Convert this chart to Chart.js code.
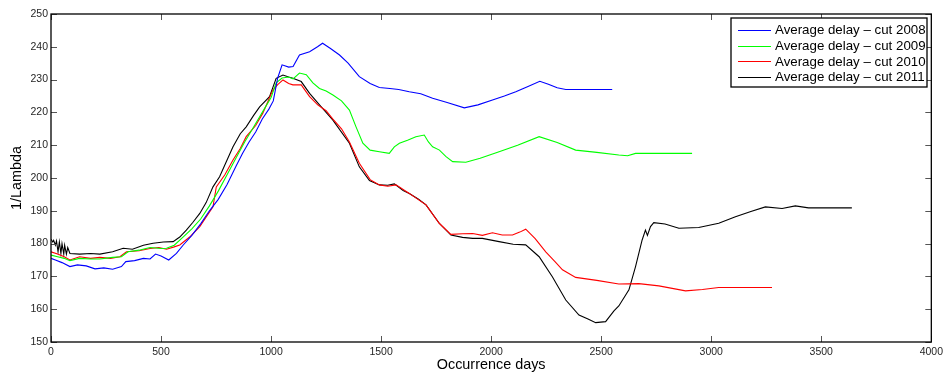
<!DOCTYPE html>
<html lang="en">
<head>
  <meta charset="UTF-8" />
  <title>Average delay - 1/Lambda</title>
  <script src="https://cdn.jsdelivr.net/npm/chart.js"></script>
  <style>
    html, body { margin: 0; padding: 0; background: #fff; }
    #wrap { width: 947px; height: 376px; }
  </style>
</head>
<body>
  <div id="wrap"><canvas id="delayChart" width="947" height="376"></canvas></div>

  <script>
    // values (x = occurrence days, y = 1/Lambda)
    const labels = ['Average delay \u2013 cut 2008', 'Average delay \u2013 cut 2009', 'Average delay \u2013 cut 2010', 'Average delay \u2013 cut 2011'];
    const colors = ['#0000ff', '#00ff00', '#ff0000', '#000000'];
    const xTicks = [0, 500, 1000, 1500, 2000, 2500, 3000, 3500, 4000];
    const yTicks = [150, 160, 170, 180, 190, 200, 210, 220, 230, 240, 250];

    const days2008 = [0, 20, 50, 86, 120, 160, 200, 240, 280, 320, 340, 380, 420, 450, 475, 500, 535, 570, 600, 640, 680, 720, 760, 800, 840, 870, 900, 930, 960, 990, 1010, 1030, 1050, 1080, 1100, 1129, 1175, 1211, 1234, 1270, 1311, 1350, 1401, 1450, 1492, 1540, 1580, 1628, 1680, 1734, 1800, 1878, 1940, 2006, 2060, 2112, 2170, 2221, 2260, 2300, 2339, 2450, 2550];
    const delay2008 = [175.5, 175, 174.2, 173, 173.5, 173.2, 172.3, 172.6, 172.2, 173, 174.5, 174.8, 175.5, 175.3, 176.8, 176.2, 175, 177, 179.5, 182.5, 186, 190, 193.5, 198, 203.5, 207.5, 211, 214, 218, 221, 223.5, 230.5, 234.5, 233.8, 234, 237.5, 238.5, 240, 241.1, 239.5, 237.5, 235, 230.9, 228.8, 227.6, 227.3, 227, 226.3, 225.7, 224.3, 223, 221.4, 222.3, 223.8, 225, 226.3, 228, 229.5, 228.6, 227.5, 227, 227, 227];

    const days2009 = [0, 30, 60, 86, 130, 180, 222, 280, 320, 350, 400, 450, 500, 525, 560, 600, 640, 680, 720, 760, 800, 840, 880, 920, 960, 1000, 1023, 1050, 1080, 1100, 1129, 1160, 1190, 1220, 1250, 1281, 1320, 1356, 1386, 1417, 1450, 1492, 1537, 1560, 1583, 1620, 1658, 1696, 1715, 1734, 1765, 1795, 1825, 1885, 1950, 2036, 2120, 2218, 2300, 2384, 2480, 2580, 2620, 2656, 2913];
    const delay2009 = [176.5, 176, 175.5, 174.8, 175.5, 175.3, 175.3, 175.8, 176, 177.5, 178, 178.8, 178.5, 178.6, 179.5, 182, 184.5, 187.5, 191.5, 196, 201, 206, 211, 215.5, 220, 224.5, 229, 230.5, 230.8, 230.2, 232, 231.5, 229, 227.3, 226.5, 225.3, 223.5, 220.7, 215.6, 210.6, 208.5, 208, 207.5, 209.5, 210.6, 211.5, 212.6, 213.1, 211, 209.5, 208.5, 206.5, 205, 204.8, 206, 208, 210, 212.6, 210.8, 208.5, 207.8, 207, 206.8, 207.5, 207.5];

    const days2010 = [0, 30, 60, 86, 130, 180, 222, 270, 313, 343, 400, 450, 490, 525, 560, 585, 630, 676, 736, 751, 790, 827, 860, 887, 930, 962, 1008, 1030, 1054, 1080, 1099, 1137, 1175, 1212, 1250, 1280, 1320, 1356, 1401, 1450, 1492, 1530, 1568, 1628, 1704, 1764, 1817, 1870, 1916, 1960, 2006, 2050, 2097, 2130, 2157, 2200, 2248, 2290, 2324, 2384, 2480, 2580, 2671, 2762, 2883, 2960, 3034, 3276];
    const delay2010 = [177.5, 176.8, 176, 175, 176, 175.5, 175.8, 175.5, 176, 177.5, 177.8, 178.5, 178.8, 178.3, 179, 179.6, 182, 185.2, 191.2, 197.3, 201, 205.5, 209, 212.6, 216, 219.7, 226.8, 228.5, 229.9, 228.8, 228.4, 228.4, 224.8, 222.3, 220.5, 218, 215, 211, 204.5, 199.5, 197.9, 197.5, 197.9, 195.3, 191.8, 186.2, 182.8, 183, 183.1, 182.5, 183.3, 182.6, 182.6, 183.5, 184.4, 181.5, 177.5, 174.5, 172, 169.7, 168.8, 167.7, 167.8, 167.1, 165.6, 166, 166.6, 166.6];

    const days2011 = [0, 8, 12, 20, 25, 32, 38, 45, 50, 58, 62, 70, 76, 86, 130, 180, 222, 280, 328, 370, 420, 464, 510, 555, 585, 615, 645, 676, 705, 736, 766, 800, 827, 860, 887, 920, 948, 993, 1023, 1054, 1080, 1099, 1137, 1175, 1220, 1280, 1356, 1401, 1447, 1492, 1530, 1560, 1600, 1628, 1670, 1704, 1764, 1817, 1870, 1916, 1960, 2036, 2100, 2157, 2218, 2278, 2339, 2399, 2440, 2475, 2520, 2558, 2580, 2626, 2656, 2686, 2701, 2710, 2724, 2739, 2790, 2853, 2943, 3034, 3110, 3180, 3246, 3322, 3382, 3442, 3639];
    const delay2011 = [181.3, 180.5, 181, 179.5, 180.8, 177.5, 180.5, 177, 180, 176.8, 179.5, 176.8, 178.8, 177, 176.8, 177, 176.8, 177.5, 178.6, 178.3, 179.5, 180.1, 180.5, 180.6, 182, 184.1, 186.5, 189.2, 192.5, 197.3, 200.4, 205.5, 209.5, 213.5, 215.6, 219, 221.7, 224.8, 230.4, 231.4, 230.8, 230.4, 229.4, 225.8, 222.3, 217.7, 210.6, 203.4, 199.2, 197.9, 197.8, 198.2, 196.2, 195.3, 193.5, 191.8, 186.2, 182.6, 181.9, 181.6, 181.6, 180.6, 179.8, 179.6, 176, 169.9, 162.8, 158.2, 157, 155.9, 156.2, 159.5, 161, 165.9, 173, 181.1, 184.1, 182.5, 185.2, 186.4, 186, 184.7, 184.9, 186.2, 188.2, 189.8, 191.2, 190.7, 191.5, 190.9, 190.9];

    const allDays = [days2008, days2009, days2010, days2011];
    const allDelays = [delay2008, delay2009, delay2010, delay2011];

    const FONT = '"Liberation Sans", Arial, sans-serif';

    function toPoints(xs, ys) {
      return xs.map((x, i) => ({ x: x, y: ys[i] }));
    }

    // matlab-like frame with inward ticks on all four sides, plus the boxed legend
    const framePlugin = {
      id: 'frame',
      afterDraw(chart) {
        const ctx = chart.ctx;
        const a = chart.chartArea;
        const xs = chart.scales.x, ys = chart.scales.y;
        ctx.save();
        ctx.strokeStyle = '#555';
        ctx.lineWidth = 1;
        ctx.beginPath();
        xTicks.forEach(v => {
          const px = Math.round(xs.getPixelForValue(v)) + 0.5;
          ctx.moveTo(px, a.bottom); ctx.lineTo(px, a.bottom - 6);
          ctx.moveTo(px, a.top); ctx.lineTo(px, a.top + 6);
        });
        yTicks.forEach(v => {
          const py = Math.round(ys.getPixelForValue(v)) + 0.5;
          ctx.moveTo(a.left, py); ctx.lineTo(a.left + 6, py);
          ctx.moveTo(a.right, py); ctx.lineTo(a.right - 6, py);
        });
        ctx.stroke();
        ctx.strokeStyle = '#000';
        ctx.lineWidth = 1.3;
        ctx.strokeRect(a.left, a.top, a.right - a.left, a.bottom - a.top);

        const lx = 731, ly = 18, lw = 196, lh = 69;
        ctx.fillStyle = '#fff';
        ctx.fillRect(lx, ly, lw, lh);
        ctx.strokeStyle = '#000';
        ctx.lineWidth = 1.3;
        ctx.strokeRect(lx, ly, lw, lh);
        ctx.font = '13.3px ' + FONT;
        ctx.textBaseline = 'middle';
        ctx.textAlign = 'left';
        chart.data.datasets.forEach((ds, i) => {
          const y = ly + 12 + i * 15.7;
          ctx.strokeStyle = ds.borderColor;
          ctx.lineWidth = 1;
          ctx.beginPath();
          ctx.moveTo(738, Math.round(y) + 0.5);
          ctx.lineTo(771, Math.round(y) + 0.5);
          ctx.stroke();
          ctx.fillStyle = '#000';
          ctx.fillText(ds.label, 775, y + 0.5);
        });
        ctx.restore();
      }
    };

    const ctx = document.getElementById('delayChart').getContext('2d');
    new Chart(ctx, {
      type: 'line',
      data: {
        datasets: labels.map((lab, i) => ({
          label: lab,
          data: toPoints(allDays[i], allDelays[i]),
          borderColor: colors[i],
          backgroundColor: colors[i],
          borderWidth: 1.1,
          pointRadius: 0,
          tension: 0,
          fill: false
        }))
      },
      options: {
        responsive: false,
        animation: false,
        layout: { padding: { top: 14, right: 14, left: 0, bottom: 0 } },
        plugins: {
          legend: { display: false },
          tooltip: { enabled: false }
        },
        scales: {
          x: {
            type: 'linear',
            min: 0,
            max: 4000,
            afterFit(scale) { scale.height = 34; },
            afterBuildTicks(scale) { scale.ticks = xTicks.map(v => ({ value: v })); },
            grid: { display: false, drawTicks: false },
            border: { display: false },
            ticks: {
              padding: 4,
              color: '#262626',
              maxRotation: 0,
              font: { family: FONT, size: 10.5 },
              callback: v => String(v)
            },
            title: {
              display: true,
              text: 'Occurrence days',
              color: '#000',
              padding: { top: 0, bottom: 2 },
              font: { family: FONT, size: 14.4 }
            }
          },
          y: {
            type: 'linear',
            min: 150,
            max: 250,
            afterFit(scale) { scale.width = 51; },
            afterBuildTicks(scale) { scale.ticks = yTicks.map(v => ({ value: v })); },
            grid: { display: false, drawTicks: false },
            border: { display: false },
            ticks: {
              padding: 3,
              color: '#262626',
              font: { family: FONT, size: 10.5 },
              callback: v => String(v)
            },
            title: {
              display: true,
              text: '1/Lambda',
              color: '#000',
              padding: { top: 8, bottom: 0 },
              font: { family: FONT, size: 14.4 }
            }
          }
        }
      },
      plugins: [framePlugin]
    });
  </script>
</body>
</html>
